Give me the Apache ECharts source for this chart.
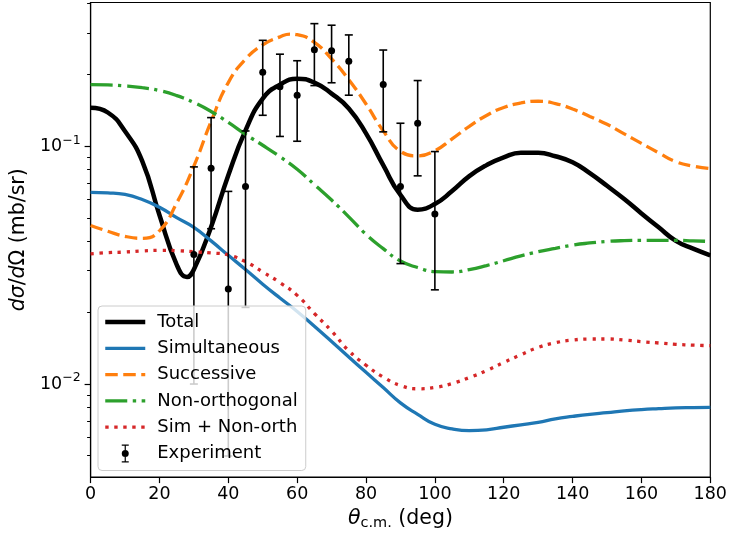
<!DOCTYPE html>
<html>
<head>
<meta charset="utf-8">
<script src="https://cdn.jsdelivr.net/npm/echarts@6/dist/echarts.min.js"></script>
<style>
html,body{margin:0;padding:0;background:#fff;}
#chart{width:730px;height:536px;}
</style>
</head>
<body>
<div id="chart"></div>
<script>
// ---- data (angle in deg, cross section in mb/sr) ----
const angles = [0, 5, 10, 15, 20, 25, 30, 35, 40, 45, 50, 55, 60, 65, 70, 75, 80, 85, 90, 95, 100, 105, 110, 115, 120, 125, 130, 135, 140, 145, 150, 155, 160, 165, 170, 175, 180];

const totalDeg = [0, 5, 10, 15, 20, 25, 28, 30, 35, 40, 45, 50, 55, 60, 65, 70, 75, 80, 85, 90, 95, 100, 105, 110, 115, 120, 125, 130, 135, 140, 145, 150, 155, 160, 165, 170, 175, 180];
const totalVal = [0.1452, 0.1387, 0.1156, 0.0866, 0.0514, 0.0318, 0.0282, 0.0303, 0.0458, 0.0756, 0.1166, 0.1588, 0.1817, 0.1925, 0.1853, 0.1666, 0.1442, 0.1133, 0.0833, 0.0624, 0.0541, 0.0572, 0.0648, 0.0749, 0.0833, 0.0899, 0.0939, 0.0939, 0.0908, 0.0857, 0.0771, 0.0682, 0.0600, 0.0522, 0.0456, 0.0400, 0.0371, 0.0348];

const simVal = [0.0640, 0.0637, 0.0627, 0.0597, 0.0554, 0.0501, 0.0456, 0.0400, 0.0348, 0.0303, 0.0263, 0.0230, 0.0202, 0.0175, 0.0151, 0.0130, 0.0112, 0.00967, 0.00833, 0.00746, 0.00677, 0.00648, 0.00637, 0.00642, 0.00658, 0.00674, 0.00690, 0.00714, 0.00731, 0.00746, 0.00758, 0.00771, 0.00781, 0.00788, 0.00794, 0.00796, 0.00798];

const sucDeg = [0, 5, 10, 15, 20, 25, 30, 35, 40, 45, 50, 55, 58, 60, 65, 70, 75, 80, 85, 90, 95, 100, 105, 110, 115, 120, 125, 130, 135, 140, 145, 150, 155, 160, 165, 170, 175, 180];
const sucVal = [0.0464, 0.0439, 0.0418, 0.0410, 0.0441, 0.0577, 0.0825, 0.1272, 0.1853, 0.2323, 0.2672, 0.2886, 0.2965, 0.2948, 0.2737, 0.2330, 0.1907, 0.1506, 0.1161, 0.0953, 0.0911, 0.0958, 0.1074, 0.1213, 0.1348, 0.1456, 0.1521, 0.1547, 0.1513, 0.1435, 0.1335, 0.1237, 0.1128, 0.1029, 0.0939, 0.0861, 0.0825, 0.0805];

const nonVal = [0.1817, 0.1812, 0.1796, 0.1765, 0.1715, 0.1634, 0.1528, 0.1401, 0.1260, 0.1122, 0.1010, 0.0904, 0.0801, 0.0690, 0.0594, 0.0505, 0.0426, 0.0371, 0.0329, 0.0309, 0.0297, 0.0296, 0.0303, 0.0315, 0.0330, 0.0346, 0.0360, 0.0372, 0.0384, 0.0392, 0.0398, 0.0401, 0.0402, 0.0402, 0.0402, 0.0400, 0.0398];

const snVal = [0.0353, 0.0357, 0.0359, 0.0363, 0.0365, 0.0364, 0.0360, 0.0356, 0.0349, 0.0327, 0.0296, 0.0267, 0.0236, 0.0198, 0.0167, 0.0138, 0.0120, 0.0107, 0.00986, 0.00955, 0.00967, 0.01005, 0.01064, 0.01139, 0.01233, 0.01328, 0.01426, 0.01492, 0.01531, 0.01546, 0.01547, 0.01531, 0.01508, 0.01488, 0.01469, 0.01457, 0.01450];

const expDeg  = [30, 35, 40, 45, 50, 55, 60, 65, 70, 75, 85, 90, 95, 100];
const expVal  = [0.0351, 0.0809, 0.0251, 0.0678, 0.205, 0.178, 0.164, 0.255, 0.252, 0.228, 0.182, 0.0678, 0.125, 0.0519];
const expLow  = [0.0100, 0.0450, 0.00498, 0.0210, 0.135, 0.110, 0.105, 0.180, 0.185, 0.164, 0.115, 0.0321, 0.0751, 0.0249];
const expHigh = [0.0819, 0.132, 0.0646, 0.116, 0.279, 0.244, 0.229, 0.328, 0.323, 0.294, 0.254, 0.125, 0.189, 0.0950];

const seriesNames = ['Total', 'Simultaneous', 'Successive', 'Non-orthogonal', 'Sim + Non-orth', 'Experiment'];
const xTicks = [0, 20, 40, 60, 80, 100, 120, 140, 160, 180];
const yMajorTicks = [0.01, 0.1];
const yMinorTicks = [0.005, 0.006, 0.007, 0.008, 0.009, 0.02, 0.03, 0.04, 0.05, 0.06, 0.07, 0.08, 0.09, 0.2, 0.3, 0.4];
const yRange = [0.00406, 0.4025];
const xRange = [0, 180];

// ---- styles ----
const FONT = 'DejaVu Sans';
const FS = 17.5;      // tick labels
const FSL = 18;       // legend
const FSA = 20.5;     // axis names
const C = {total: '#000000', sim: '#1f77b4', suc: '#ff7f0e', non: '#2ca02c', sn: '#d62728'};
const pairs = (xs, ys) => xs.map((x, i) => [x, ys[i]]);

const errIcon = 'path://M16.5 0H23.5V1.2H20.6V5.6H19.4V1.2H16.5Z M19.4 12.4H20.6V16.8H23.5V18H16.5V16.8H19.4Z M20 5.5A3.5 3.5 0 1 1 20 12.5A3.5 3.5 0 1 1 20 5.5Z';

function lineSeries(name, data, color, width, type) {
  return {
    name, type: 'line', data, smooth: 0.5, symbol: 'none', showSymbol: false,
    lineStyle: {color, width, type, cap: 'butt'}, itemStyle: {color},
    xAxisIndex: 0, yAxisIndex: 0, z: 2
  };
}
const hideSym = {opacity: 0, color: 'rgba(0,0,0,0)', borderWidth: 0};

const chart = echarts.init(document.getElementById('chart'), null, {renderer: 'canvas'});
const option = {
  animation: false,
  backgroundColor: '#ffffff',
  textStyle: {fontFamily: FONT, color: '#000'},
  grid: {left: 89, right: 17, top: 2.5, bottom: 56.5, show: true, borderColor: '#000', borderWidth: 1.2, backgroundColor: 'transparent'},
  xAxis: {
    type: 'value', min: xRange[0], max: xRange[1], interval: 20,
    axisLine: {onZero: false, lineStyle: {color: '#000', width: 1.2}},
    axisTick: {inside: false, length: 6, lineStyle: {color: '#000', width: 1.2}, customValues: xTicks},
    axisLabel: {customValues: xTicks, margin: 8, fontFamily: FONT, fontSize: FS, color: '#000'},
    splitLine: {show: false},
    name: '{i|θ}{s|c.m.}{n| (deg)}',
    nameLocation: 'middle', nameGap: 27,
    nameTextStyle: {
      fontFamily: FONT, color: '#000',
      rich: {
        i: {fontFamily: FONT, fontSize: FSA, fontStyle: 'italic', lineHeight: 25, color: '#000'},
        s: {fontFamily: FONT, fontSize: 14.5, verticalAlign: 'bottom', color: '#000'},
        n: {fontFamily: FONT, fontSize: FSA, lineHeight: 25, color: '#000'}
      }
    }
  },
  yAxis: [{
    type: 'log', logBase: 10, min: yRange[0], max: yRange[1], position: 'left',
    axisLine: {show: true, onZero: false, lineStyle: {color: '#000', width: 1.2}},
    axisTick: {inside: false, length: 6, lineStyle: {color: '#000', width: 1.2}, customValues: yMajorTicks},
    axisLabel: {
      customValues: yMajorTicks, margin: 10,
      formatter: function (v) { const e = Math.round(Math.log10(v)); return '{b|10}{s|' + (e < 0 ? '\u2212' : '') + Math.abs(e) + '}'; },
      rich: {
        b: {fontFamily: FONT, fontSize: FS, lineHeight: 25, color: '#000'},
        s: {fontFamily: FONT, fontSize: 12.5, verticalAlign: 'top', color: '#000'}
      }
    },
    splitLine: {show: false},
    minorTick: {show: false},
    name: '{i|dσ}{n|/}{i|d}{n|Ω (mb/sr)}',
    nameLocation: 'middle', nameGap: 56,
    nameTextStyle: {
      fontFamily: FONT, color: '#000',
      rich: {
        i: {fontFamily: FONT, fontSize: FSA, fontStyle: 'italic', lineHeight: 24, color: '#000'},
        n: {fontFamily: FONT, fontSize: FSA, lineHeight: 24, color: '#000'}
      }
    }
  }, {
    type: 'log', logBase: 10, min: yRange[0], max: yRange[1], position: 'left',
    axisLine: {show: false},
    axisTick: {inside: false, length: 3.5, lineStyle: {color: '#000', width: 1}, customValues: yMinorTicks},
    axisLabel: {show: false},
    splitLine: {show: false}
  }],
  legend: {
    orient: 'vertical', left: 98, top: 306,
    padding: [7, 8, 8, 5],
    itemWidth: 40, itemHeight: 18, itemGap: 8.3,
    backgroundColor: 'rgba(255,255,255,0.8)', borderColor: '#cccccc', borderWidth: 1, borderRadius: 4,
    textStyle: {fontFamily: FONT, fontSize: FSL, color: '#000', padding: [0, 0, 0, 7]},
    selectedMode: false,
    z: 10,
    data: [
      {name: seriesNames[0], lineStyle: {width: 4.5}, itemStyle: hideSym},
      {name: seriesNames[1], lineStyle: {width: 3.3}, itemStyle: hideSym},
      {name: seriesNames[2], lineStyle: {width: 3.3}, itemStyle: hideSym},
      {name: seriesNames[3], lineStyle: {width: 3.3}, itemStyle: hideSym},
      {name: seriesNames[4], lineStyle: {width: 3.3}, itemStyle: hideSym},
      {name: seriesNames[5], icon: errIcon, itemStyle: {color: '#000'}}
    ]
  },
  series: [
    lineSeries(seriesNames[0], pairs(totalDeg, totalVal), C.total, 4.5, 'solid'),
    lineSeries(seriesNames[1], pairs(angles, simVal), C.sim, 3.3, 'solid'),
    lineSeries(seriesNames[2], pairs(sucDeg, sucVal), C.suc, 3.3, [12.5, 5.5]),
    lineSeries(seriesNames[3], pairs(angles, nonVal), C.non, 3.3, [22, 5.5, 3.4, 5.5]),
    lineSeries(seriesNames[4], pairs(angles, snVal), C.sn, 3.3, [3.4, 5.6]),
    {
      name: seriesNames[5], type: 'custom', xAxisIndex: 0, yAxisIndex: 0, z: 3,
      itemStyle: {color: '#000'},
      dimensions: ['x', 'y', 'lo', 'hi'],
      encode: {x: 0, y: [1, 2, 3]},
      data: expDeg.map((d, i) => [d, expVal[i], expLow[i], expHigh[i]]),
      renderItem: function (params, api) {
        const x = api.value(0);
        const pc = api.coord([x, api.value(1)]);
        const pl = api.coord([x, api.value(2)]);
        const ph = api.coord([x, api.value(3)]);
        const cap = 4;
        const st = {stroke: '#000', lineWidth: 1.6};
        return {
          type: 'group',
          children: [
            {type: 'line', shape: {x1: pl[0], y1: pl[1], x2: ph[0], y2: ph[1]}, style: st},
            {type: 'line', shape: {x1: ph[0] - cap, y1: ph[1], x2: ph[0] + cap, y2: ph[1]}, style: st},
            {type: 'line', shape: {x1: pl[0] - cap, y1: pl[1], x2: pl[0] + cap, y2: pl[1]}, style: st},
            {type: 'circle', shape: {cx: pc[0], cy: pc[1], r: 3.5}, style: {fill: '#000'}}
          ]
        };
      }
    }
  ]
};
chart.setOption(option);
</script>
</body>
</html>
